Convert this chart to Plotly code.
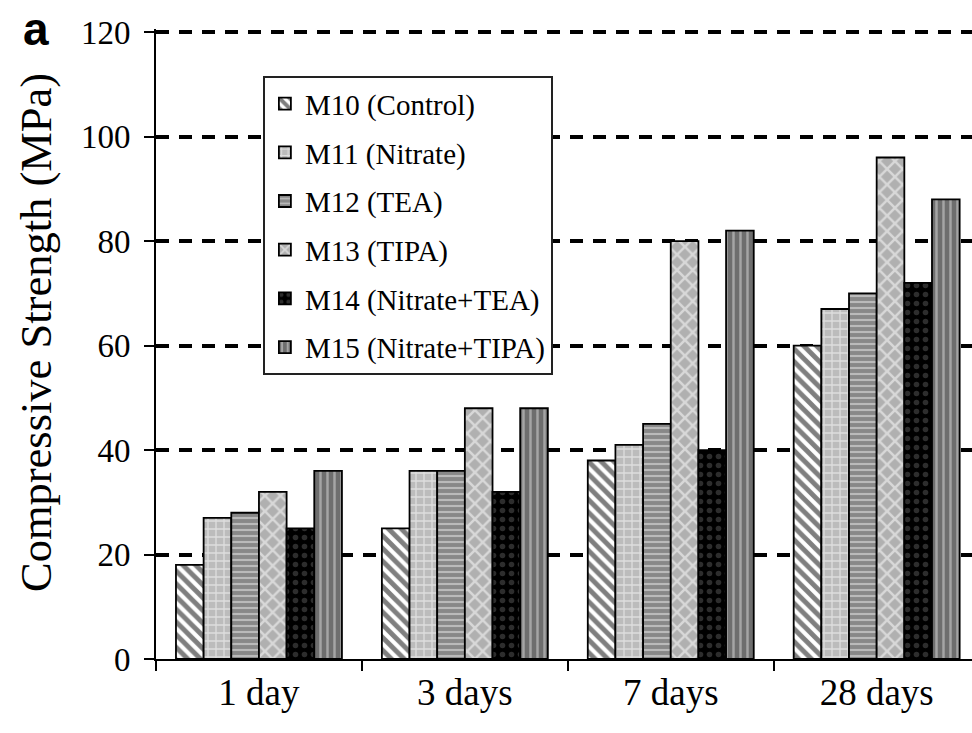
import plotly.graph_objects as go

categories = ["1 day", "3 days", "7 days", "28 days"]
series_names = ["M10 (Control)", "M11 (Nitrate)", "M12 (TEA)", "M13 (TIPA)",
                "M14 (Nitrate+TEA)", "M15 (Nitrate+TIPA)"]
m10 = [18, 25, 38, 60]
m11 = [27, 36, 41, 67]
m12 = [28, 36, 45, 70]
m13 = [32, 48, 80, 96]
m14 = [25, 32, 40, 72]
m15 = [36, 48, 82, 88]
y_ticks = [0, 20, 40, 60, 80, 100, 120]
y_title = "Compressive Strength (MPa)"

values = [m10, m11, m12, m13, m14, m15]
patterns = [
    dict(shape="\\", bgcolor="white", fgcolor="black", size=9, solidity=0.55),
    dict(shape="+", bgcolor="#bcbcbc", fgcolor="white", size=8, solidity=0.3),
    dict(shape="-", bgcolor="#888888", fgcolor="#ececec", size=6, solidity=0.35),
    dict(shape="x", bgcolor="#b0b0b0", fgcolor="white", size=11, solidity=0.4),
    dict(shape=".", bgcolor="black", fgcolor="#5a5a5a", size=9, solidity=0.3),
    dict(shape="|", bgcolor="#6e6e6e", fgcolor="#dcdcdc", size=7, solidity=0.35),
]

serif = "Liberation Serif"

fig = go.Figure()
for name, vals, pat in zip(series_names, values, patterns):
    fig.add_trace(go.Bar(
        x=categories, y=vals, name=name, legendgroup=name,
        marker=dict(color=pat["bgcolor"], pattern=pat,
                    line=dict(color="black", width=1.8)),
    ))

ymax = 120.6
t_margin = 29
b_margin = 74
plot_h = 733 - t_margin - b_margin

fig.update_layout(
    width=972, height=733, autosize=False,
    margin=dict(l=156, r=0, t=t_margin, b=b_margin),
    paper_bgcolor="white", plot_bgcolor="white",
    barmode="group", bargap=0.194, bargroupgap=0,
    font=dict(family=serif, color="black"),
    legend=dict(
        x=0.131, y=0.925, xanchor="left", yanchor="top",
        bordercolor="#222", borderwidth=2, bgcolor="white",
        font=dict(family=serif, size=29, color="black"),
        tracegroupgap=8,
    ),
    xaxis=dict(
        range=[-0.5, 3.463], showline=True, linecolor="black", linewidth=2,
        ticks="outside", tickson="boundaries", ticklen=10, tickwidth=2,
        tickcolor="black", showgrid=False,
        tickfont=dict(family=serif, size=37, color="black"),
    ),
    yaxis=dict(
        range=[0, ymax], tickvals=y_ticks, showline=True, linecolor="black",
        linewidth=2, ticks="outside", ticklen=10, tickwidth=2, tickcolor="black",
        showgrid=True, gridcolor="black", gridwidth=3.5, griddash="13px,10px",
        zeroline=False, ticklabelstandoff=7,
        tickfont=dict(family=serif, size=33, color="black"),
    ),
)

fig.add_annotation(
    text=y_title, xref="paper", yref="paper",
    x=(36 - 156) / 816, y=(659 - 333) / plot_h,
    xanchor="center", yanchor="middle", textangle=-90, showarrow=False,
    font=dict(family=serif, size=44.5, color="black"),
)

fig.add_annotation(
    text="<b>a</b>", xref="paper", yref="paper", x=(36 - 156) / 816, y=1.0,
    xanchor="center", yanchor="middle", showarrow=False,
    font=dict(family="Liberation Sans", size=46, color="black"),
)

fig.write_html("out.html")
